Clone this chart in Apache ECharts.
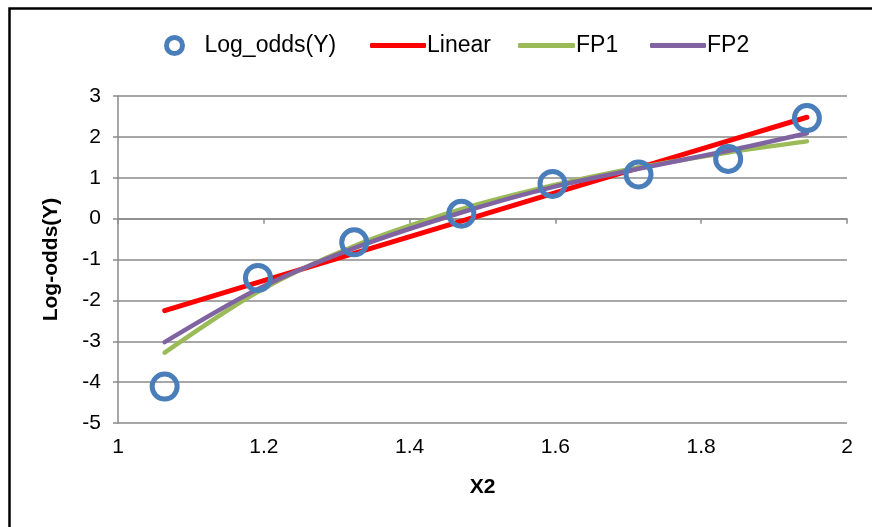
<!DOCTYPE html>
<html>
<head>
<meta charset="utf-8">
<script src="https://cdn.jsdelivr.net/npm/echarts@6/dist/echarts.min.js"></script>
<style>
  html, body { margin: 0; padding: 0; background: #fff; }
  #chart { width: 872px; height: 527px; }
</style>
</head>
<body>
<div id="chart"></div>
<script>
// X2 values of the observed groups
const x2Values = [1.064, 1.192, 1.324, 1.471, 1.596, 1.714, 1.837, 1.945];
// Observed log-odds per group
const logOdds = [-4.11, -1.45, -0.58, 0.12, 0.85, 1.08, 1.46, 2.46];
// Fitted curves evaluated at the same X2 values
const linearFit = [-2.25, -1.56, -0.85, -0.06, 0.61, 1.24, 1.90, 2.48];
const fp1Fit = [-3.28, -1.79, -0.67, 0.23, 0.81, 1.25, 1.62, 1.89];
const fp2Fit = [-3.02, -1.72, -0.72, 0.15, 0.77, 1.22, 1.66, 2.09];
// Axis ranges
const xRange = [1, 2, 0.2];
const yRange = [-5, 3, 1];

const font = "'Liberation Sans', Arial, sans-serif";
const gridColor = '#8a8a8a';

function pairs(ys) { return x2Values.map((x, i) => [x, ys[i]]); }

const chart = echarts.init(document.getElementById('chart'), null, { renderer: 'canvas' });

function legendFor(name, left, icon, w, h, style, pad) {
  return {
    left: left, top: 34, padding: 0,
    itemWidth: w, itemHeight: h, itemGap: 0,
    icon: icon,
    data: [{ name: name, icon: icon, itemStyle: style }],
    textStyle: { fontFamily: font, fontSize: 23, color: '#000', padding: pad },
    selectedMode: false
  };
}

chart.setOption({
  animation: false,
  backgroundColor: '#fff',
  grid: { left: 118, right: 25, top: 96, bottom: 104, containLabel: false },
  legend: [
    legendFor('Log_odds(Y)', 164, 'circle', 16, 16,
      { color: '#fff', borderColor: '#4A7EBB', borderWidth: 5 }, [0, 0, 0, 17]),
    legendFor('Linear', 370, 'roundRect', 56, 5, { color: '#FF0000', borderWidth: 0 }, [0, 0, 0, -4]),
    legendFor('FP1', 518, 'roundRect', 57, 5, { color: '#9BBB59', borderWidth: 0 }, [0, 0, 0, -4]),
    legendFor('FP2', 650, 'roundRect', 56, 5, { color: '#8064A2', borderWidth: 0 }, [0, 0, 0, -4])
  ],
  xAxis: [
    {
      type: 'value', min: xRange[0], max: xRange[1], interval: xRange[2],
      position: 'bottom',
      name: 'X2', nameLocation: 'middle', nameGap: 54,
      nameTextStyle: { fontFamily: font, fontSize: 21, fontWeight: 'bold', color: '#000' },
      axisLine: { show: false, onZero: false },
      axisTick: { show: false },
      splitLine: { show: false },
      axisLabel: { fontFamily: font, fontSize: 21, color: '#000', margin: 14 }
    },
    {
      type: 'value', min: xRange[0], max: xRange[1], interval: xRange[2],
      position: 'bottom',
      axisLine: { show: true, onZero: true, onZeroAxisIndex: 0, lineStyle: { color: gridColor, width: 1.5 } },
      axisTick: { show: true, length: 5, lineStyle: { color: gridColor, width: 1.5 } },
      axisLabel: { show: false },
      splitLine: { show: false }
    }
  ],
  yAxis: {
    type: 'value', min: yRange[0], max: yRange[1], interval: yRange[2],
    name: 'Log-odds(Y)', nameLocation: 'middle', nameGap: 56, nameRotate: 90,
    nameTextStyle: { fontFamily: font, fontSize: 21, fontWeight: 'bold', color: '#000' },
    axisLine: { show: true, lineStyle: { color: gridColor, width: 1.5 } },
    axisTick: { show: true, length: 5, lineStyle: { color: gridColor, width: 1.5 } },
    axisLabel: { fontFamily: font, fontSize: 21, color: '#000', margin: 17 },
    splitLine: { show: true, lineStyle: { color: gridColor, width: 1.5 } }
  },
  series: [
    {
      name: 'Log_odds(Y)', type: 'scatter', xAxisIndex: 0, z: 5,
      data: pairs(logOdds),
      symbol: 'circle', symbolSize: 25,
      itemStyle: { color: 'rgba(0,0,0,0)', borderColor: '#4A7EBB', borderWidth: 5, opacity: 1 }
    },
    {
      name: 'Linear', type: 'line', xAxisIndex: 0, z: 2,
      data: pairs(linearFit), showSymbol: false, symbol: 'none',
      lineStyle: { color: '#FF0000', width: 5, cap: 'round' },
      itemStyle: { color: '#FF0000' }
    },
    {
      name: 'FP1', type: 'line', xAxisIndex: 0, z: 3, smooth: 0.3,
      data: pairs(fp1Fit), showSymbol: false, symbol: 'none',
      lineStyle: { color: '#9BBB59', width: 4.5, cap: 'round' },
      itemStyle: { color: '#9BBB59' }
    },
    {
      name: 'FP2', type: 'line', xAxisIndex: 0, z: 4, smooth: 0.3,
      data: pairs(fp2Fit), showSymbol: false, symbol: 'none',
      lineStyle: { color: '#8064A2', width: 4.5, cap: 'round' },
      itemStyle: { color: '#8064A2' }
    }
  ],
  graphic: [
    {
      type: 'rect', left: 7, top: 6, z: 100, silent: true,
      shape: { x: 0, y: 0, width: 900, height: 600 },
      style: { fill: 'none', stroke: '#000', lineWidth: 2.5 }
    }
  ]
});
</script>
</body>
</html>
